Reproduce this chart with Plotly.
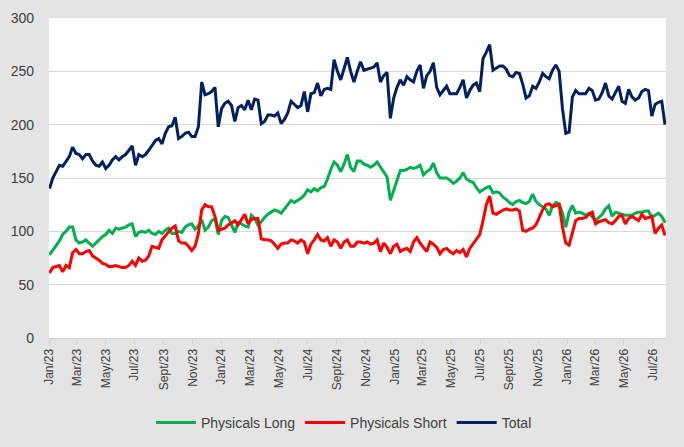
import pandas as pd
import plotly.graph_objects as go

# Weekly positions, Jan 2023 - Jul 2026
start_date = "2023-01-02"
n_weeks = 187

physicals_long = [
    78, 82, 87, 91, 97, 100, 104, 104, 92, 89, 90, 92, 89, 86, 89, 92, 95, 97, 101, 98,
    103, 102, 103, 104, 106, 107, 95, 99, 100, 99, 101, 98, 97, 100, 98, 101, 103, 98, 98, 100,
    99, 104, 106, 107, 102, 105, 111, 101, 104, 110, 112, 97, 110, 114, 113, 106, 99, 108, 107, 105,
    104, 115, 112, 106, 109, 113, 116, 118, 120, 119, 117, 121, 125, 129, 127, 129, 131, 134, 139, 137,
    140, 138, 141, 142, 149, 158, 165, 162, 156, 163, 172, 160, 156, 166, 166, 163, 162, 160, 162, 165,
    160, 155, 151, 129, 138, 147, 157, 157, 158, 160, 159, 160, 162, 153, 156, 158, 164, 155, 150, 150,
    150, 148, 145, 147, 150, 155, 149, 147, 146, 141, 137, 139, 141, 142, 136, 137, 136, 132, 130, 127,
    125, 128, 129, 127, 126, 128, 135, 128, 125, 123, 121, 115, 124, 127, 126, 117, 104, 118, 124, 117,
    118, 117, 115, 117, 113, 110, 113, 116, 121, 124, 114, 118, 117, 116, 115, 115, 115, 117, 118, 118,
    119, 119, 113, 115, 117, 114, 108,
]

physicals_short = [
    61, 66, 67, 68, 62, 68, 66, 80, 83, 79, 79, 81, 82, 77, 75, 73, 70, 69, 67, 67,
    68, 67, 66, 66, 68, 72, 68, 75, 72, 73, 77, 86, 85, 84, 92, 96, 100, 103, 105, 91,
    89, 89, 86, 82, 86, 98, 120, 125, 123, 123, 114, 101, 102, 103, 106, 108, 110, 106, 111, 116,
    107, 111, 112, 112, 93, 92, 92, 91, 88, 84, 88, 89, 89, 92, 91, 89, 92, 90, 79, 88,
    92, 97, 92, 91, 94, 86, 92, 90, 84, 90, 92, 86, 86, 90, 90, 89, 90, 88, 89, 92,
    81, 89, 85, 79, 86, 88, 81, 83, 84, 81, 90, 94, 89, 85, 81, 90, 88, 85, 79, 83,
    84, 81, 79, 82, 80, 83, 76, 84, 88, 92, 97, 110, 125, 133, 117, 116, 118, 120, 121, 120,
    120, 121, 119, 101, 100, 102, 103, 106, 113, 120, 125, 126, 123, 124, 125, 104, 89, 87, 98, 110,
    112, 112, 113, 116, 118, 107, 109, 110, 111, 108, 107, 110, 114, 115, 107, 112, 114, 112, 110, 116,
    112, 113, 114, 98, 103, 106, 96,
]

total = [
    140, 150, 156, 162, 161, 165, 170, 179, 173, 172, 168, 172, 172, 166, 162, 161, 165, 159, 162, 167,
    170, 167, 170, 172, 176, 180, 162, 172, 170, 172, 176, 181, 185, 187, 182, 192, 198, 199, 207, 187,
    189, 192, 193, 189, 189, 198, 240, 228, 229, 231, 235, 198, 215, 220, 222, 218, 203, 216, 218, 214,
    223, 214, 224, 223, 201, 203, 209, 209, 208, 211, 201, 205, 211, 222, 219, 216, 218, 231, 212, 229,
    230, 239, 227, 233, 234, 233, 261, 250, 242, 252, 263, 250, 240, 250, 259, 251, 252, 253, 254, 258,
    240, 246, 249, 206, 225, 235, 242, 237, 245, 242, 240, 250, 256, 234, 246, 250, 258, 235, 228, 232,
    236, 229, 229, 229, 235, 242, 225, 232, 237, 239, 231, 262, 268, 275, 251, 253, 255, 255, 252, 246,
    245, 249, 248, 238, 225, 227, 236, 234, 240, 248, 245, 243, 251, 256, 250, 215, 192, 193, 226, 232,
    229, 229, 229, 234, 232, 223, 224, 230, 239, 227, 224, 230, 236, 222, 220, 233, 226, 223, 225, 231,
    233, 232, 208, 219, 221, 222, 200,
]

tick_dates = pd.date_range("2023-01-01", "2026-07-01", freq="2MS")
tick_labels = ["Jan", "Mar", "May", "Jul", "Sept", "Nov"]
tick_text = [f"{tick_labels[(d.month - 1) // 2]}/{d.strftime('%y')}" for d in tick_dates]

dates = pd.date_range(start_date, periods=n_weeks, freq="7D")

fig = go.Figure()
fig.add_trace(go.Scatter(x=dates, y=physicals_long, mode="lines", name="Physicals Long",
                         line=dict(color="#00b050", width=3)))
fig.add_trace(go.Scatter(x=dates, y=physicals_short, mode="lines", name="Physicals Short",
                         line=dict(color="#ff0000", width=3)))
fig.add_trace(go.Scatter(x=dates, y=total, mode="lines", name="Total",
                         line=dict(color="#002060", width=3)))

fig.update_layout(
    width=684, height=447,
    margin=dict(l=49, r=18, t=18, b=109, autoexpand=False),
    paper_bgcolor="#e4e4e4",
    plot_bgcolor="white",
    font=dict(family="Liberation Sans Narrow, Liberation Sans, sans-serif", size=12, color="#404040"),
    showlegend=True,
    legend=dict(orientation="h", x=0.478, xanchor="center",
                yref="container", y=0.054, yanchor="middle",
                font=dict(size=14, color="#404040"), bgcolor="rgba(0,0,0,0)",
                itemwidth=40, tracegroupgap=0),
)
fig.update_xaxes(
    range=["2023-01-01", "2026-07-29"],
    tickmode="array", tickvals=tick_dates, ticktext=tick_text,
    tickangle=-90, tickfont=dict(size=12, color="#404040"),
    showgrid=False, showline=True, linecolor="#d0d0d0", linewidth=1,
    ticks="outside", ticklen=5, tickcolor="#d0d0d0",
)
fig.update_yaxes(
    range=[0, 300], dtick=50,
    showgrid=True, gridcolor="#d9d9d9", gridwidth=1,
    zeroline=False, showline=False,
    tickfont=dict(family="Liberation Sans, sans-serif", size=14, color="#404040"),
    ticks="", ticklabelstandoff=14,
)

# drop the page margin so the grey paper fills the window
page_css = ("document.body.style.margin='0px';"
            "document.body.style.backgroundColor='#e4e4e4';"
            "document.documentElement.style.backgroundColor='#e4e4e4';")
fig.write_html("out.html", post_script=page_css, config={"displayModeBar": False})
